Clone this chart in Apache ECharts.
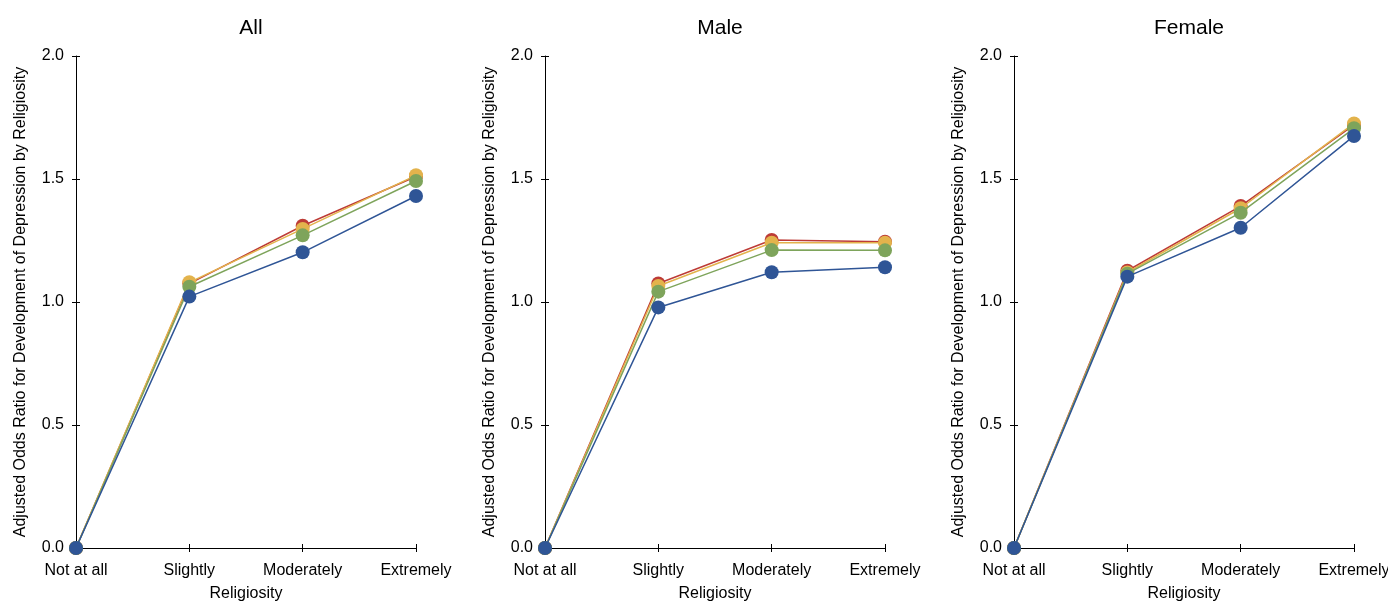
<!DOCTYPE html>
<html><head><meta charset="utf-8">
<script src="https://cdn.jsdelivr.net/npm/echarts@6/dist/echarts.min.js"></script>
<style>html,body{margin:0;padding:0;background:#fff}#c{width:1388px;height:602px}</style>
</head><body><div id="c"></div>
<script>
const categories = ['Not at all', 'Slightly', 'Moderately', 'Extremely'];
const panelTitles = ['All', 'Male', 'Female'];
const yTicks = [0, 0.5, 1.0, 1.5, 2.0];
// series order: red, yellow, green, blue (blue drawn on top)
const allRed    = [0, 1.075, 1.31, 1.51];
const allYellow = [0, 1.08, 1.297, 1.515];
const allGreen  = [0, 1.062, 1.271, 1.492];
const allBlue   = [0, 1.022, 1.202, 1.431];
const maleRed    = [0, 1.075, 1.252, 1.245];
const maleYellow = [0, 1.065, 1.241, 1.241];
const maleGreen  = [0, 1.042, 1.211, 1.21];
const maleBlue   = [0, 0.978, 1.121, 1.141];
const femRed    = [0, 1.127, 1.39, 1.72];
const femYellow = [0, 1.12, 1.381, 1.726];
const femGreen  = [0, 1.115, 1.363, 1.706];
const femBlue   = [0, 1.103, 1.302, 1.675];

const panels = [
  [allRed, allYellow, allGreen, allBlue],
  [maleRed, maleYellow, maleGreen, maleBlue],
  [femRed, femYellow, femGreen, femBlue]
];
const colors = ['#bd3b36', '#e3b34c', '#7ea45b', '#2f5596'];
const lefts = [76, 545, 1014];
const W = 340;
const font = 'Liberation Sans, Arial, Helvetica, sans-serif';

const grid = [], xAxis = [], yAxis = [], series = [], title = [];
lefts.forEach((l, i) => {
  grid.push({left: l, width: W, top: 56, bottom: 54, containLabel: false, outerBoundsMode: 'none'});
  title.push({text: panelTitles[i], left: l + W / 2, top: 13, textAlign: 'center',
    textStyle: {fontFamily: font, fontSize: 21, fontWeight: 'normal', color: '#000'}});
  xAxis.push({type: 'category', gridIndex: i, data: categories, boundaryGap: false,
    axisLine: {lineStyle: {color: '#000', width: 1}},
    axisTick: {show: true, inside: true, length: 4, alignWithLabel: true, lineStyle: {color: '#000'}},
    axisLabel: {color: '#000', fontFamily: font, fontSize: 16, margin: 15, interval: 0},
    name: 'Religiosity', nameLocation: 'middle', nameGap: 38,
    nameTextStyle: {color: '#000', fontFamily: font, fontSize: 16},
    splitLine: {show: false}});
  xAxis.push({type: 'category', gridIndex: i, data: categories, boundaryGap: false, position: 'bottom',
    axisLine: {show: false},
    axisTick: {show: true, inside: false, length: 4, lineStyle: {color: '#000'}},
    axisLabel: {show: false}, splitLine: {show: false}});
  yAxis.push({type: 'value', gridIndex: i, min: 0, max: 2, interval: 0.5,
    axisLine: {show: true, lineStyle: {color: '#000', width: 1}},
    axisTick: {show: true, inside: false, length: 4, lineStyle: {color: '#000'}},
    axisLabel: {color: '#000', fontFamily: font, fontSize: 16, margin: 12,
      formatter: v => yTicks.includes(v) ? v.toFixed(1) : ''},
    name: 'Adjusted Odds Ratio for Development of Depression by Religiosity',
    nameLocation: 'middle', nameGap: 47, nameRotate: 90,
    nameTextStyle: {color: '#000', fontFamily: font, fontSize: 16},
    splitLine: {show: false}});
  yAxis.push({type: 'value', gridIndex: i, min: 0, max: 2, interval: 0.5, position: 'left',
    axisLine: {show: false},
    axisTick: {show: true, inside: true, length: 4, lineStyle: {color: '#000'}},
    axisLabel: {show: false}, splitLine: {show: false}});
  panels[i].forEach((d, k) => {
    series.push({type: 'line', xAxisIndex: i * 2, yAxisIndex: i * 2, data: d,
      symbol: 'circle', symbolSize: 14, showSymbol: true,
      lineStyle: {color: colors[k], width: 1.5},
      itemStyle: {color: colors[k]}, z: 2 + k, animation: false});
  });
});

const chart = echarts.init(document.getElementById('c'));
chart.setOption({animation: false, title, grid, xAxis, yAxis, series});
</script></body></html>
